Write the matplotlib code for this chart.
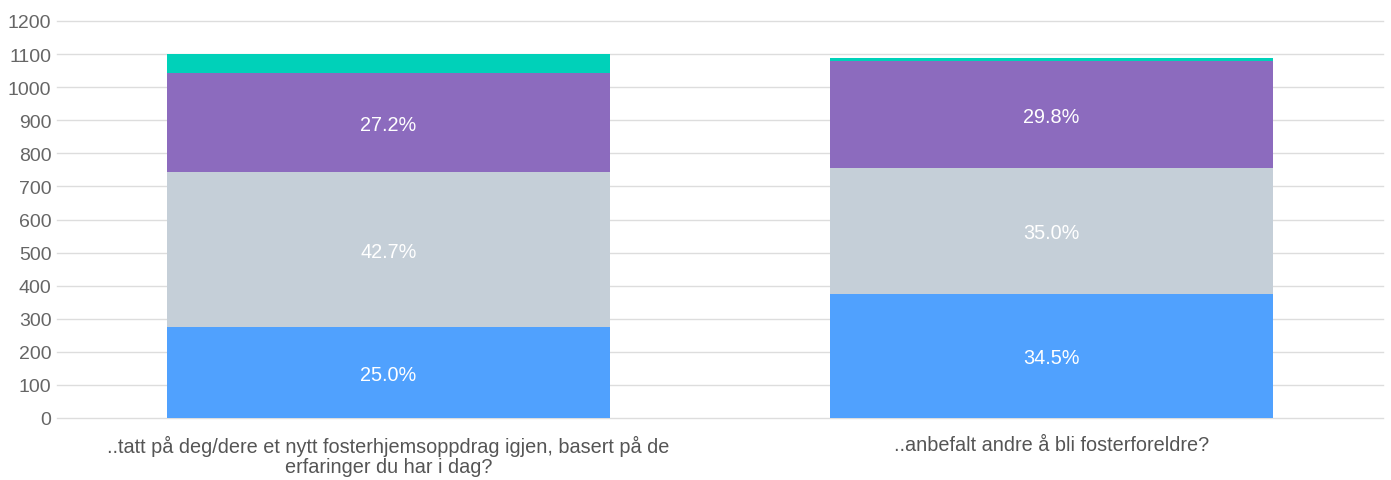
import matplotlib
matplotlib.use("Agg")
import matplotlib.pyplot as plt
import numpy as np

plt.rcParams['font.family'] = ['Liberation Sans', 'DejaVu Sans']

categories = ["..tatt på deg/dere et nytt fosterhjemsoppdrag igjen, basert på de\nerfaringer du har i dag?",
              "..anbefalt andre å bli fosterforeldre?"]
# stacked segments, bottom to top
blue = [275, 375]
grey = [470, 381]
purple = [299, 324]
teal = [56, 8]
blue_lbl = ["25.0%", "34.5%"]
grey_lbl = ["42.7%", "35.0%"]
purple_lbl = ["27.2%", "29.8%"]

colors = ["#50a1fe", "#c5cfd8", "#8c6bbe", "#00d1b9"]

fig = plt.figure(figsize=(13.91, 4.81), dpi=100)
ax = fig.add_axes([57/1391, 1 - 419/481, 1326/1391, 397/481])

x = np.arange(len(categories))
w = 0.668
bottom = np.zeros(len(categories))
for vals, col, lbls in [(blue, colors[0], blue_lbl), (grey, colors[1], grey_lbl),
                        (purple, colors[2], purple_lbl), (teal, colors[3], None)]:
    vals = np.array(vals, dtype=float)
    ax.bar(x, vals, w, bottom=bottom, color=col, zorder=2)
    if lbls:
        for i, l in enumerate(lbls):
            ax.text(x[i], bottom[i] + vals[i] / 2, l, ha='center', va='center_baseline',
                    color='white', fontsize=14.3)
    bottom += vals

ax.set_xlim(-0.5, 1.5)
ax.set_ylim(0, 1200)
ax.set_yticks(range(0, 1201, 100))
ax.grid(axis='y', color='#dddddd', linewidth=1, zorder=0)
for gl in ax.get_ygridlines():
    gl.set_clip_on(False)
for s in ax.spines.values():
    s.set_visible(False)
ax.tick_params(axis='y', length=0, pad=4, labelsize=14, labelcolor='#666666')
ax.tick_params(axis='x', length=0, pad=12, labelsize=14.3, labelcolor='#555555')
ax.set_xticks(x)
ax.set_xticklabels(categories, linespacing=1.1)

fig.savefig("out.png", dpi=100)
